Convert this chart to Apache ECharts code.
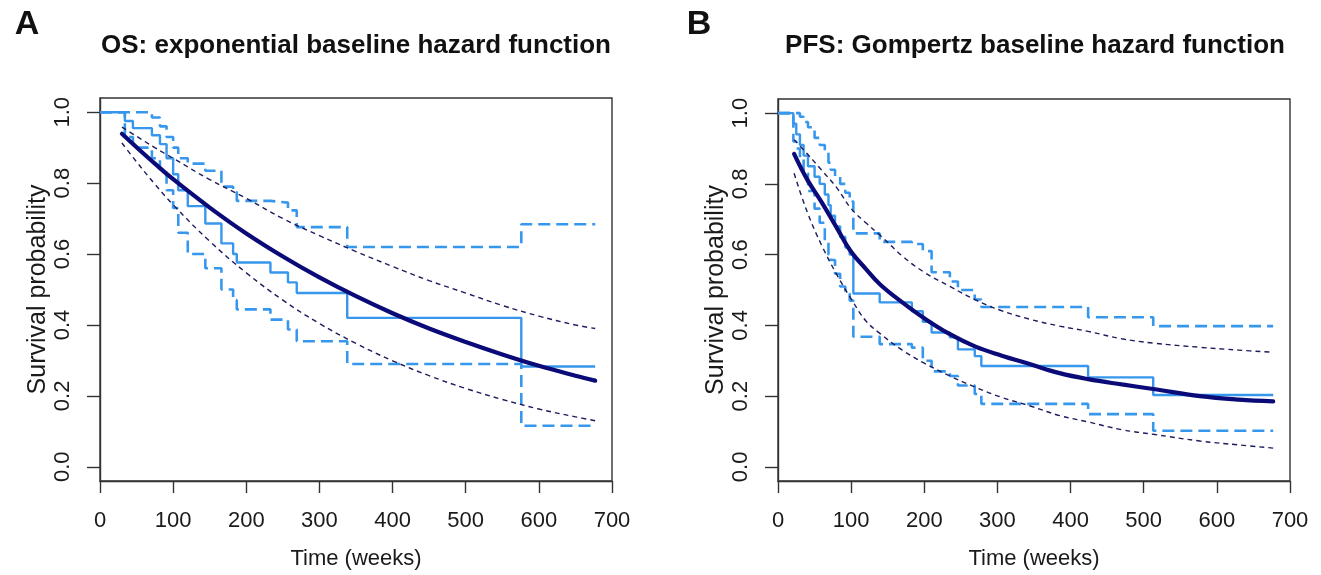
<!DOCTYPE html>
<html>
<head>
<meta charset="utf-8">
<script src="https://cdn.jsdelivr.net/npm/echarts@6/dist/echarts.min.js"></script>
<style>
html,body{margin:0;padding:0;background:#fff;}
#chart{width:1321px;height:575px;}
</style>
</head>
<body>
<div id="chart"></div>
<script>
// ---------- Tick labels ----------
const xTicks = [0, 100, 200, 300, 400, 500, 600, 700];
const yTicks = [0, 0.2, 0.4, 0.6, 0.8, 1.0];

// ---------- Panel A: OS, exponential ----------
const osKmTime = [0, 34, 45, 71, 82, 91, 100, 107, 120, 144, 166, 182, 187, 233, 257, 269, 338, 576, 677];
const osKm     = [1, 0.975, 0.955, 0.935, 0.91, 0.87, 0.825, 0.78, 0.735, 0.686, 0.63, 0.60, 0.576, 0.548, 0.52, 0.49, 0.42, 0.283, 0.283];
const osKmUp   = [1, 1, 1, 0.985, 0.96, 0.93, 0.90, 0.87, 0.855, 0.835, 0.79, 0.775, 0.75, 0.745, 0.723, 0.676, 0.62, 0.684, 0.684];
const osKmLo   = [1, 0.93, 0.90, 0.87, 0.84, 0.78, 0.73, 0.66, 0.60, 0.56, 0.50, 0.47, 0.444, 0.415, 0.387, 0.354, 0.29, 0.116, 0.116];

const osFitTime = [30, 50, 75, 100, 150, 200, 250, 300, 350, 400, 450, 500, 550, 600, 650, 677];
const osFit     = [0.939, 0.901, 0.855, 0.811, 0.731, 0.658, 0.593, 0.534, 0.481, 0.433, 0.390, 0.352, 0.317, 0.285, 0.257, 0.243];
const osFitUp   = [0.958, 0.932, 0.90, 0.87, 0.81, 0.757, 0.70, 0.652, 0.607, 0.565, 0.525, 0.49, 0.455, 0.425, 0.40, 0.39];
const osFitLo   = [0.913, 0.86, 0.797, 0.739, 0.636, 0.547, 0.47, 0.404, 0.348, 0.299, 0.257, 0.221, 0.19, 0.163, 0.141, 0.13];

// ---------- Panel B: PFS, Gompertz ----------
const pfsKmTime = [0, 21, 25, 30, 35, 41, 50, 57, 64, 69, 72, 78, 85, 92, 98, 103, 139, 183, 198, 210, 235, 246, 269, 278, 424, 513, 677];
const pfsKm     = [1, 0.97, 0.94, 0.91, 0.88, 0.85, 0.82, 0.80, 0.77, 0.74, 0.71, 0.68, 0.65, 0.62, 0.60, 0.49, 0.465, 0.44, 0.41, 0.38, 0.366, 0.332, 0.313, 0.285, 0.253, 0.203, 0.203];
const pfsKmUp   = [1, 1, 1, 0.99, 0.975, 0.96, 0.93, 0.91, 0.89, 0.86, 0.84, 0.82, 0.80, 0.775, 0.75, 0.66, 0.636, 0.63, 0.61, 0.55, 0.524, 0.50, 0.473, 0.452, 0.423, 0.398, 0.398];
const pfsKmLo   = [1, 0.92, 0.90, 0.87, 0.83, 0.78, 0.73, 0.69, 0.64, 0.60, 0.585, 0.546, 0.51, 0.49, 0.47, 0.368, 0.347, 0.337, 0.30, 0.27, 0.257, 0.23, 0.206, 0.178, 0.149, 0.102, 0.102];

const pfsFitTime = [22, 40, 60, 80, 100, 120, 140, 170, 200, 235, 270, 305, 345, 385, 424, 470, 513, 577, 630, 677];
const pfsFit     = [0.885, 0.812, 0.747, 0.677, 0.608, 0.56, 0.515, 0.465, 0.42, 0.375, 0.34, 0.315, 0.29, 0.265, 0.248, 0.233, 0.22, 0.20, 0.19, 0.185];
const pfsFitUp   = [0.925, 0.885, 0.838, 0.79, 0.73, 0.69, 0.654, 0.596, 0.55, 0.51, 0.472, 0.442, 0.417, 0.398, 0.383, 0.362, 0.35, 0.338, 0.33, 0.324];
const pfsFitLo   = [0.83, 0.72, 0.625, 0.545, 0.475, 0.413, 0.376, 0.33, 0.293, 0.257, 0.225, 0.197, 0.172, 0.145, 0.127, 0.105, 0.092, 0.073, 0.062, 0.053];

// ---------- Text ----------
const titleA = 'OS: exponential baseline hazard function';
const titleB = 'PFS: Gompertz baseline hazard function';
const xName = 'Time (weeks)';
const yName = 'Survival probability';

// ---------- Build ----------
const pairs = (t, v) => t.map((x, i) => [x, v[i]]);
const KM_COLOR = '#3797ec';
const FIT_COLOR = '#0a0a78';
const CI_COLOR = '#1c1c5e';
const FONT = 'Liberation Sans, Arial, sans-serif';
const AX = '#333333';

const grids = [
  { left: 100, top: 98, width: 512, height: 383 },
  { left: 778, top: 99, width: 512, height: 383 }
];

function xAxisFor(gi) {
  return {
    gridIndex: gi, type: 'value', min: 0, max: 700, interval: 100,
    name: xName, nameLocation: 'middle', nameGap: 67,
    nameTextStyle: { fontFamily: FONT, fontSize: 22, color: '#1a1a1a' },
    axisLine: { show: true, onZero: false, lineStyle: { color: AX, width: 1.4 } },
    axisTick: { show: true, inside: false, length: 12, customValues: xTicks, lineStyle: { color: AX, width: 1.4 } },
    axisLabel: { fontFamily: FONT, fontSize: 22, color: '#1a1a1a', margin: 29, customValues: xTicks },
    splitLine: { show: false }
  };
}
function yAxisFor(gi) {
  return {
    gridIndex: gi, type: 'value', min: -0.04, max: 1.04,
    name: yName, nameLocation: 'middle', nameGap: 47, nameRotate: 90,
    nameTextStyle: { fontFamily: FONT, fontSize: 25, color: '#1a1a1a' },
    axisLine: { show: true, onZero: false, lineStyle: { color: AX, width: 1.4 } },
    axisTick: { show: true, inside: false, length: 13, customValues: yTicks, lineStyle: { color: AX, width: 1.4 } },
    axisLabel: { fontFamily: FONT, fontSize: 22, color: '#1a1a1a', margin: 26, rotate: 90,
                 customValues: yTicks, formatter: v => Number(v).toFixed(1) },
    splitLine: { show: false }
  };
}

function stepSeries(gi, data, dashed) {
  return {
    type: 'line', xAxisIndex: gi, yAxisIndex: gi, data: data, step: 'end',
    symbol: 'none', silent: true, z: 2,
    lineStyle: { color: KM_COLOR, width: dashed ? 2.6 : 2.4, type: dashed ? [12, 6] : 'solid' }
  };
}
function fitSeries(gi, data, ci) {
  return {
    type: 'line', xAxisIndex: gi, yAxisIndex: gi, data: data, smooth: 0.4,
    symbol: 'none', silent: true, z: ci ? 3 : 4,
    lineStyle: ci ? { color: CI_COLOR, width: 1.4, type: [5, 4] }
                  : { color: FIT_COLOR, width: 4.2, cap: 'round' }
  };
}

const series = [
  stepSeries(0, pairs(osKmTime, osKmUp), true),
  stepSeries(0, pairs(osKmTime, osKmLo), true),
  stepSeries(0, pairs(osKmTime, osKm), false),
  fitSeries(0, pairs(osFitTime, osFitUp), true),
  fitSeries(0, pairs(osFitTime, osFitLo), true),
  fitSeries(0, pairs(osFitTime, osFit), false),
  stepSeries(1, pairs(pfsKmTime, pfsKmUp), true),
  stepSeries(1, pairs(pfsKmTime, pfsKmLo), true),
  stepSeries(1, pairs(pfsKmTime, pfsKm), false),
  fitSeries(1, pairs(pfsFitTime, pfsFitUp), true),
  fitSeries(1, pairs(pfsFitTime, pfsFitLo), true),
  fitSeries(1, pairs(pfsFitTime, pfsFit), false)
];

const chart = echarts.init(document.getElementById('chart'), null, { renderer: 'canvas' });
chart.setOption({
  backgroundColor: '#ffffff',
  animation: false,
  grid: grids.map(g => Object.assign({ show: true, borderColor: AX, borderWidth: 1.4, backgroundColor: 'transparent' }, g)),
  xAxis: [xAxisFor(0), xAxisFor(1)],
  yAxis: [yAxisFor(0), yAxisFor(1)],
  series: series,
  graphic: [
    { type: 'text', x: 27, y: 25, style: { text: 'A', font: 'bold 34px ' + FONT, fill: '#111', align: 'center', verticalAlign: 'middle' } },
    { type: 'text', x: 699, y: 25, style: { text: 'B', font: 'bold 34px ' + FONT, fill: '#111', align: 'center', verticalAlign: 'middle' } },
    { type: 'text', x: 356, y: 46, style: { text: titleA, font: 'bold 26px ' + FONT, fill: '#111', align: 'center', verticalAlign: 'middle' } },
    { type: 'text', x: 1035, y: 46, style: { text: titleB, font: 'bold 26px ' + FONT, fill: '#111', align: 'center', verticalAlign: 'middle' } }
  ]
});
</script>
</body>
</html>
